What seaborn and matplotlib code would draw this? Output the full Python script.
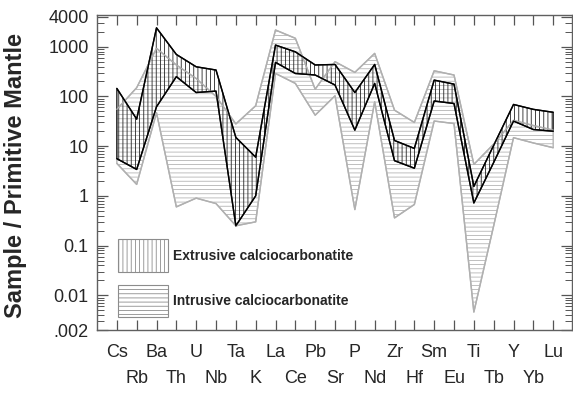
import numpy as np
import pandas as pd
import seaborn as sns
import matplotlib
matplotlib.use("Agg")
import matplotlib.pyplot as plt
from matplotlib.patches import Patch
from matplotlib.ticker import LogLocator, NullFormatter

# Element order of the spider diagram
elements = ["Cs", "Rb", "Ba", "Th", "U", "Nb", "Ta", "K", "La", "Ce", "Pb", "Sr",
            "P", "Nd", "Zr", "Hf", "Sm", "Eu", "Ti", "Tb", "Y", "Yb", "Lu"]

# Extrusive calciocarbonatite envelope (sample / primitive mantle)
ext_max = [145, 35, 2400, 700, 395, 340, 15, 6, 1080, 790, 430, 440,
           120, 440, 13, 9, 213, 177, 1.55, 10.4, 69, 55, 48]
ext_min = [5.6, 3.4, 62, 250, 120, 128, 0.25, 1.0, 485, 290, 270, 170,
           21, 183, 5.1, 3.6, 81, 72, 0.72, 4.7, 32, 21.6, 20]

# Intrusive calciocarbonatite envelope
int_max = [55, 150, 930, 430, 230, 100, 28, 65, 2170, 1480, 140, 500,
           305, 735, 53, 30, 328, 270, 4.3, 11, 33, 26, 21]
int_min = [4.5, 1.7, 47, 0.6, 0.9, 0.7, 0.25, 0.3, 290, 183, 42, 103,
           0.53, 78, 0.36, 0.67, 32, 28.5, 0.0046, 0.25, 14.8, 11.6, 9.3]

ytick_vals = [0.002, 0.01, 0.1, 1, 10, 100, 1000, 4000]
ytick_labels = [".002", "0.01", "0.1", "1", "10", "100", "1000", "4000"]

df = pd.DataFrame({"pos": np.arange(len(elements)), "element": elements,
                   "ext_max": ext_max, "ext_min": ext_min,
                   "int_max": int_max, "int_min": int_min})

sns.set_style("ticks")
plt.rcParams["font.family"] = ["Liberation Sans", "DejaVu Sans"]
plt.rcParams["hatch.linewidth"] = 0.6

fig, ax = plt.subplots(figsize=(5.73, 3.93), dpi=100)
fig.subplots_adjust(left=0.1693, right=0.9983, bottom=0.1603, top=0.9618)

# hatched envelopes
ax.fill_between(df["pos"], df["int_min"], df["int_max"], facecolor="none",
                edgecolor="#b4b4b4", hatch="----", linewidth=1.0, zorder=1)
ax.fill_between(df["pos"], df["ext_min"], df["ext_max"], facecolor="none",
                edgecolor="#222222", hatch="||||", linewidth=1.0, zorder=2)

# outlines
for col, c, z in [("int_max", "#b0b0b0", 3), ("int_min", "#b0b0b0", 3),
                  ("ext_max", "black", 4), ("ext_min", "black", 4)]:
    sns.lineplot(data=df, x="pos", y=col, color=c, linewidth=1.0, ax=ax, zorder=z)

ax.set_yscale("log")
ax.set_ylim(0.002, 4350)
ax.set_xlim(-1, 22.95)

ax.set_yticks(ytick_vals, ytick_labels)
ax.yaxis.set_minor_locator(LogLocator(base=10, subs=np.arange(2, 10) * 1.0, numticks=20))
ax.yaxis.set_minor_formatter(NullFormatter())

ax.set_xticks(df["pos"][::2], elements[::2])
ax.set_xticks(df["pos"][1::2], elements[1::2], minor=True)

ax.tick_params(axis="y", which="major", direction="in", length=8, width=0.9,
               left=True, right=True, labelsize=13, pad=6, color="#555555")
ax.tick_params(axis="y", which="minor", direction="in", length=5, width=0.7,
               left=True, right=True, color="#555555")
ax.tick_params(axis="x", which="both", direction="in", length=7, width=0.9,
               top=True, bottom=True, labelsize=13, color="#555555")
ax.tick_params(axis="x", which="major", pad=10)
ax.tick_params(axis="x", which="minor", pad=29)

for s in ax.spines.values():
    s.set_color("#606060")
    s.set_linewidth(1.0)

ax.set_xlabel("")
ax.set_ylabel("Sample / Primitive Mantle", fontsize=17, fontweight="bold")
ax.yaxis.set_label_coords(-0.147, 0.49)

handles = [Patch(facecolor="white", edgecolor="#8c8c8c", hatch="||||", linewidth=0.8),
           Patch(facecolor="white", edgecolor="#8c8c8c", hatch="----", linewidth=0.8)]
ax.legend(handles, ["Extrusive calciocarbonatite", "Intrusive calciocarbonatite"],
          loc="lower left", bbox_to_anchor=(0.044, 0.041), frameon=False,
          borderpad=0, borderaxespad=0, handlelength=3.6, handleheight=3.2,
          labelspacing=0.94, handletextpad=0.36, prop={"weight": "bold", "size": 10})

plt.savefig("out.png", dpi=100)
